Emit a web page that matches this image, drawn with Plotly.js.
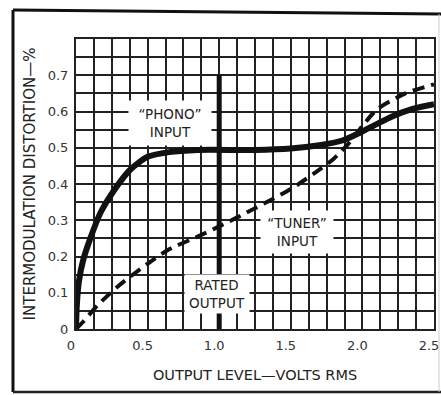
<!DOCTYPE html>
<html>
<head>
<meta charset="utf-8">
<script src="https://cdn.plot.ly/plotly-3.0.1.min.js"></script>
<style>html,body{margin:0;padding:0;background:#fff;}#chart{width:441px;height:395px;}</style>
</head>
<body>
<div id="chart"></div>
<script>
// "PHONO" input curve (solid)
var phonoX = [0, 0.005, 0.02, 0.05, 0.1, 0.17, 0.27, 0.38, 0.5, 0.65, 0.85, 1.25, 1.5, 1.7, 1.86, 2.0, 2.1, 2.2, 2.35, 2.5];
var phonoY = [0, 0.06, 0.13, 0.19, 0.25, 0.32, 0.385, 0.44, 0.475, 0.488, 0.494, 0.494, 0.498, 0.507, 0.52, 0.545, 0.565, 0.585, 0.607, 0.62];
// "TUNER" input curve (dashed)
var tunerX = [0, 0.05, 0.15, 0.3, 0.5, 0.65, 0.85, 1.0, 1.25, 1.5, 1.68, 1.8, 1.9, 2.0, 2.1, 2.3, 2.5];
var tunerY = [0, 0.02, 0.065, 0.12, 0.18, 0.22, 0.255, 0.283, 0.333, 0.386, 0.434, 0.47, 0.51, 0.56, 0.605, 0.65, 0.675];
// Rated output marker line
var ratedX = [1.0, 1.0];
var ratedY = [0, 0.7];
// Axis ticks (grid every 0.125 V and 0.05 %)
var xTickVals = [0, 0.125, 0.25, 0.375, 0.5, 0.625, 0.75, 0.875, 1.0, 1.125, 1.25, 1.375, 1.5, 1.625, 1.75, 1.875, 2.0, 2.125, 2.25, 2.375, 2.5];
var xTickText = ['0', '', '', '', '0.5', '', '', '', '1.0', '', '', '', '1.5', '', '', '', '2.0', '', '', '', '2.5'];
var yTickVals = [0, 0.05, 0.1, 0.15, 0.2, 0.25, 0.3, 0.35, 0.4, 0.45, 0.5, 0.55, 0.6, 0.65, 0.7, 0.75, 0.8];
var yTickText = ['0', '', '0.1', '', '0.2', '', '0.3', '', '0.4', '', '0.5', '', '0.6', '', '0.7', '', ''];

var ink = '#111';
var gridInk = '#222';
var fontFam = 'DejaVu Sans, sans-serif';

var traces = [
  {x: ratedX, y: ratedY, mode: 'lines', line: {color: ink, width: 5}, hoverinfo: 'skip'},
  {x: tunerX, y: tunerY, mode: 'lines', line: {color: ink, width: 4, dash: '12px,7px', shape: 'spline', smoothing: 0.7}},
  {x: phonoX, y: phonoY, mode: 'lines', line: {color: ink, width: 6, shape: 'spline', smoothing: 0.7}}
];

var layout = {
  width: 441, height: 395,
  margin: {l: 76, r: 7, t: 39, b: 66},
  paper_bgcolor: '#fff', plot_bgcolor: '#fff',
  showlegend: false,
  font: {family: fontFam, color: '#333', size: 13},
  xaxis: {
    range: [0, 2.5], tickmode: 'array', tickvals: xTickVals, ticktext: xTickText,
    showgrid: true, gridcolor: gridInk, gridwidth: 2,
    showline: true, linecolor: gridInk, linewidth: 2, mirror: true,
    zeroline: false, ticks: '', ticklabelstandoff: 3, ticklabelshift: -5, ticklabeloverflow: 'allow',
    tickfont: {size: 13, color: '#333'},
    title: {text: 'OUTPUT LEVEL\u2014VOLTS RMS', font: {size: 14.5, color: '#222'}, standoff: 18}
  },
  yaxis: {
    range: [0, 0.8], tickmode: 'array', tickvals: yTickVals, ticktext: yTickText,
    showgrid: true, gridcolor: gridInk, gridwidth: 2,
    showline: true, linecolor: gridInk, linewidth: 2, mirror: true,
    zeroline: false, ticks: '', ticklabelstandoff: 3, ticklabeloverflow: 'allow',
    tickfont: {size: 13, color: '#333'},
    title: {text: 'INTERMODULATION DISTORTION\u2014%', font: {size: 15, color: '#222'}, standoff: 8}
  },
  annotations: [
    {x: 0.656, y: 0.568, xref: 'x', yref: 'y', text: '\u201cPHONO\u201d<br>INPUT', showarrow: false,
     bgcolor: '#fff', width: 80, height: 42, font: {size: 13.5, color: '#222', family: fontFam}},
    {x: 1.543, y: 0.268, xref: 'x', yref: 'y', text: '\u201cTUNER\u201d<br>INPUT', showarrow: false,
     bgcolor: '#fff', width: 70, height: 40, font: {size: 13.5, color: '#222', family: fontFam}},
    {x: 0.985, y: 0.097, xref: 'x', yref: 'y', text: 'RATED<br>OUTPUT', showarrow: false,
     bgcolor: '#fff', width: 62, height: 36, font: {size: 13.5, color: '#222', family: fontFam}}
  ],
  shapes: [
    {type: 'line', xref: 'paper', yref: 'paper', x0: -0.176, y0: 1.1, x1: -0.176, y1: -0.217, line: {color: '#111', width: 3}},
    {type: 'line', xref: 'paper', yref: 'paper', x0: -0.176, y0: 1.1, x1: 1.02, y1: 1.086, line: {color: '#111', width: 3}},
    {type: 'line', xref: 'paper', yref: 'paper', x0: -0.176, y0: -0.217, x1: 1.02, y1: -0.217, line: {color: '#222', width: 2.5}},
    {type: 'line', xref: 'paper', yref: 'paper', x0: 1.014, y0: 1.086, x1: 1.014, y1: -0.217, line: {color: '#ccc', width: 1}}
  ]
};

Plotly.newPlot('chart', traces, layout, {displayModeBar: false, staticPlot: true});
</script>
</body>
</html>
